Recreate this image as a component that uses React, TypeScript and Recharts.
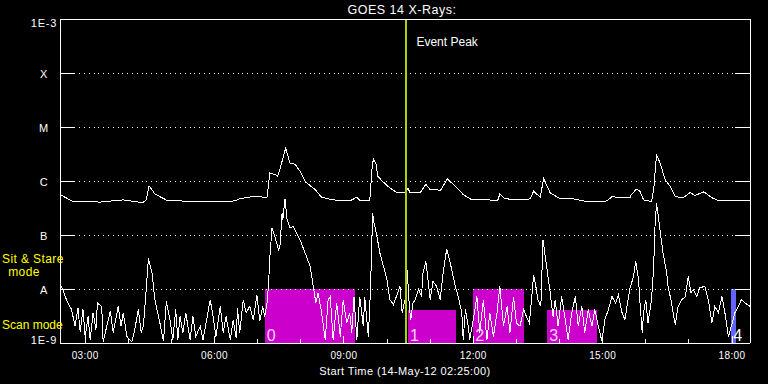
import {
  ComposedChart,
  Line,
  XAxis,
  YAxis,
  ReferenceLine,
  ReferenceArea,
} from 'recharts';

// time in minutes since 00:00 UT, flux as log10(W/m^2)
const longTime = [
  145, 163, 201, 233, 260, 265, 269, 277, 294, 312, 351, 388, 395, 412, 433,
  437, 444, 448, 452, 459, 465, 472, 479, 486, 500, 509, 525, 548, 558, 562,
  576, 579, 581, 585, 587, 594, 604, 613, 625, 629, 632, 646, 654, 660, 667,
  674, 684, 695, 706, 718, 740, 754, 757, 764, 792, 799, 804, 813, 818, 827,
  841, 859, 878, 906, 913, 924, 938, 940, 947, 952, 957, 968, 971, 975, 980,
  987, 994, 1001, 1012, 1022, 1028, 1041, 1052, 1061, 1084, 1105,
];
const longFlux = [
  -6.25, -6.38, -6.39, -6.35, -6.4, -6.35, -6.09, -6.24, -6.36, -6.37, -6.38, -6.37, -6.33, -6.29, -6.3,
  -5.85, -5.88, -5.91, -5.73, -5.39, -5.67, -5.69, -5.82, -6.01, -6.16, -6.3, -6.35, -6.37, -6.3, -6.36,
  -6.36, -5.79, -5.59, -5.7, -5.91, -6.01, -6.13, -6.21, -6.22, -6.13, -6.22, -6.22, -6.06, -6.16, -6.15,
  -6.18, -5.96, -6.1, -6.25, -6.35, -6.35, -6.36, -6.24, -6.33, -6.35, -6.33, -6.19, -6.3, -5.96, -6.22,
  -6.33, -6.33, -6.38, -6.37, -6.29, -6.31, -6.31, -6.25, -6.15, -6.19, -6.35, -6.38, -6.16, -5.51, -5.67,
  -5.98, -6.1, -6.29, -6.31, -6.21, -6.27, -6.2, -6.31, -6.36, -6.37, -6.37,
];

const shortTime = [
  145, 149, 154, 161, 166, 170, 173, 177, 180, 184, 187, 191, 195, 197, 203, 205, 215, 219, 226, 230,
  233, 238, 245, 249, 254, 258, 261, 265, 268, 273, 277, 284, 289, 293, 298, 302, 306, 309, 312, 316,
  320, 326, 330, 334, 340, 344, 354, 358, 362, 368, 372, 376, 382, 386, 390, 392, 395, 400, 404, 409,
  414, 419, 423, 427, 430, 433, 435, 437, 440, 444, 449, 451, 454, 455, 458, 461, 465, 469, 473, 479,
  486, 493, 497, 501, 504, 509, 514, 518, 521, 525, 530, 535, 539, 544, 548, 551, 554, 558, 562, 567,
  569, 574, 577, 580, 581, 583, 586, 590, 595, 600, 604, 609, 613, 618, 621, 625, 628, 631, 633, 636,
  639, 644, 648, 650, 654, 657, 660, 664, 669, 674, 678, 683, 688, 695, 699, 704, 706, 709, 713, 715,
  720, 725, 729, 734, 739, 743, 748, 753, 757, 762, 767, 771, 776, 780, 785, 790, 794, 798, 801, 804,
  807, 810, 814, 817, 822, 827, 831, 834, 838, 843, 848, 852, 857, 862, 866, 871, 875, 880, 885, 889,
  894, 899, 903, 908, 913, 918, 922, 927, 931, 936, 938, 943, 946, 950, 952, 955, 957, 960, 963, 968,
  971, 973, 975, 978, 981, 984, 989, 991, 995, 998, 1001, 1005, 1010, 1015, 1019, 1023, 1026, 1031, 1035, 1042,
  1047, 1052, 1056, 1061, 1066, 1071, 1075, 1079, 1084, 1089, 1093, 1098, 1105,
];
const shortFlux = [
  -7.92, -8.01, -8.2, -8.38, -8.69, -8.35, -8.79, -8.38, -8.88, -8.51, -8.94, -8.44, -8.75, -8.26, -8.32, -8.98, -8.41, -8.81, -8.32, -8.69,
  -8.44, -8.88, -8.98, -8.75, -8.38, -8.81, -8.69, -8.01, -7.43, -7.7, -8.2, -8.63, -8.97, -8.23, -8.57, -8.94, -8.38, -8.94, -8.51, -8.81,
  -8.44, -8.94, -8.51, -8.88, -8.69, -8.94, -8.2, -8.51, -8.88, -8.32, -8.81, -8.51, -8.94, -8.57, -8.9, -8.35, -8.81, -8.2, -8.44, -8.32,
  -8.57, -8.11, -8.6, -8.32, -8.51, -8.26, -7.95, -7.4, -6.87, -7.03, -7.27, -7.21, -6.59, -6.72, -6.33, -6.72, -6.87, -6.84, -6.93, -7.09,
  -7.33, -7.58, -7.92, -8.26, -8.07, -8.44, -8.94, -8.2, -8.14, -8.94, -8.26, -8.88, -8.2, -8.63, -8.44, -8.81, -8.14, -8.94, -8.14, -8.69,
  -8.14, -8.88, -8.01, -6.59, -6.72, -6.84, -7.03, -7.33, -7.58, -7.83, -8.2, -8.29, -8.14, -7.95, -8.44, -8.2, -7.64, -8.32, -8.57, -8.26,
  -8.2, -8.01, -8.14, -7.7, -7.49, -7.83, -8.2, -7.86, -7.95, -8.2, -7.7, -7.26, -7.52, -7.95, -8.14, -8.44, -8.94, -8.38, -8.69, -8.94,
  -8.57, -8.14, -8.81, -8.2, -8.94, -8.44, -8.88, -8.44, -7.95, -8.69, -8.32, -8.81, -8.14, -8.63, -8.69, -8.38, -8.51, -8.63, -8.2, -7.74,
  -7.95, -8.2, -8.32, -7.09, -7.58, -8.07, -8.51, -8.2, -8.69, -8.14, -8.57, -8.94, -8.44, -8.14, -8.69, -8.32, -8.81, -8.38, -8.69, -8.38,
  -8.69, -8.97, -8.57, -8.38, -8.14, -8.26, -8.11, -8.44, -8.57, -8.14, -7.98, -7.77, -7.49, -7.83, -8.26, -8.81, -8.44, -8.2, -8.63, -8.2,
  -7.58, -6.78, -6.41, -6.72, -7.03, -7.33, -7.7, -7.95, -8.2, -8.44, -8.66, -8.32, -8.2, -8.14, -7.77, -8.07, -8.01, -8.14, -7.98, -7.95,
  -8.2, -8.63, -8.32, -8.44, -8.14, -8.51, -8.88, -8.69, -8.44, -8.32, -8.2, -8.26, -8.32,
];

const hourTicks = [180, 240, 300, 360, 420, 480, 540, 600, 660, 720, 780, 840, 900, 960, 1020, 1080];
const majorTicks = [180, 360, 540, 720, 900, 1080];
const majorLabels = ['03:00', '06:00', '09:00', '12:00', '15:00', '18:00'];

const levelTicks = [-9, -8, -7, -6, -5, -4, -3];
const levelLabels = ['1E-9', 'A', 'B', 'C', 'M', 'X', '1E-3'];
const gridLevels = [-8, -7, -6, -5, -4];

// observing windows (minutes UT)
const rasterNames = ['0', '1', '2', '3', '4'];
const rasterStart = [430, 629, 720, 823, 1079];
const rasterEnd = [555, 696, 791, 892, 1086];
const rasterTop = [-8, -8.38, -8, -8.38, -8];
const rasterColor = ['#cc00cc', '#cc00cc', '#cc00cc', '#cc00cc', '#6464ff'];

const eventPeak = 627;

const longData = longTime.map((t, i) => ({ t, f: longFlux[i] }));
const shortData = shortTime.map((t, i) => ({ t, f: shortFlux[i] }));

const FONT = '"Liberation Sans", Arial, sans-serif';

const BottomTick = (props: any) => {
  const { x, y, payload } = props;
  const i = majorTicks.indexOf(payload.value);
  return (
    <g>
      <line x1={x} x2={x} y1={y} y2={y - (i >= 0 ? 7 : 4)} stroke="#fff" shapeRendering="crispEdges" />
      {i >= 0 && (
        <text x={x} y={y + 16} fill="#fff" fontSize={10} fontFamily={FONT} textAnchor="middle" letterSpacing={0.4}>
          {majorLabels[i]}
        </text>
      )}
    </g>
  );
};

const TopTick = (props: any) => {
  const { x, y, payload } = props;
  const major = majorTicks.includes(payload.value);
  return <line x1={x} x2={x} y1={y} y2={y + (major ? 7 : 4)} stroke="#fff" shapeRendering="crispEdges" />;
};

const LeftTick = (props: any) => {
  const { x, y, payload } = props;
  const i = levelTicks.indexOf(payload.value);
  const dy = payload.value === -3 ? 8 : payload.value === -9 ? 1 : 4.5;
  return (
    <g>
      {i > 0 && i < levelTicks.length - 1 && (
        <line x1={x} x2={x + 15} y1={y} y2={y} stroke="#fff" shapeRendering="crispEdges" />
      )}
      <text x={x - 16} y={y + dy} fill="#fff" fontSize={11} fontFamily={FONT} textAnchor="middle" letterSpacing={0.8}>
        {levelLabels[i]}
      </text>
    </g>
  );
};

const RightTick = (props: any) => {
  const { x, y, payload } = props;
  if (payload.value === -3 || payload.value === -9) return <g />;
  return <line x1={x} x2={x - 15} y1={y} y2={y} stroke="#fff" shapeRendering="crispEdges" />;
};

export default function App() {
  return (
    <div style={{ position: 'absolute', left: 0, top: 0, width: 768, height: 384, background: '#000', overflow: 'hidden' }}>
      <ComposedChart width={768} height={384} margin={{ top: 0, right: 0, bottom: 0, left: 0 }}>
        <XAxis
          xAxisId="b"
          dataKey="t"
          type="number"
          domain={[145, 1105]}
          ticks={hourTicks}
          interval={0}
          allowDataOverflow
          height={41}
          tickSize={0}
          tickMargin={0}
          tickLine={false}
          tick={BottomTick}
          axisLine={{ stroke: '#fff', shapeRendering: 'crispEdges' }}
        />
        <XAxis
          xAxisId="t"
          orientation="top"
          type="number"
          domain={[145, 1105]}
          ticks={hourTicks}
          interval={0}
          allowDataOverflow
          height={19}
          tickSize={0}
          tickMargin={0}
          tickLine={false}
          tick={TopTick}
          axisLine={{ stroke: '#fff', shapeRendering: 'crispEdges' }}
        />
        <YAxis
          yAxisId="l"
          type="number"
          domain={[-9, -3]}
          ticks={levelTicks}
          interval={0}
          allowDataOverflow
          width={60}
          tickSize={0}
          tickMargin={0}
          tickLine={false}
          tick={LeftTick}
          axisLine={{ stroke: '#fff', shapeRendering: 'crispEdges' }}
        />
        <YAxis
          yAxisId="r"
          orientation="right"
          type="number"
          domain={[-9, -3]}
          ticks={levelTicks}
          interval={0}
          allowDataOverflow
          width={18}
          tickSize={0}
          tickMargin={0}
          tickLine={false}
          tick={RightTick}
          axisLine={{ stroke: '#fff', shapeRendering: 'crispEdges' }}
        />

        {gridLevels.map(v => (
          <ReferenceLine
            key={v}
            xAxisId="b"
            yAxisId="l"
            y={v}
            stroke="#fff"
            strokeDasharray="1 3.8"
            shapeRendering="crispEdges"
          />
        ))}

        {rasterNames.map((name, i) => (
          <ReferenceArea
            key={name}
            xAxisId="b"
            yAxisId="l"
            x1={rasterStart[i]}
            x2={rasterEnd[i]}
            y1={-9}
            y2={rasterTop[i]}
            fill={rasterColor[i]}
            fillOpacity={1}
            stroke="none"
            shapeRendering="crispEdges"
            label={{
              value: name,
              position: 'insideBottomLeft',
              offset: 2,
              fill: i === 4 ? '#ffffff' : '#ffd6ff',
              fontSize: 16,
              fontFamily: FONT,
            }}
          />
        ))}

        <Line
          xAxisId="b"
          yAxisId="l"
          data={longData}
          dataKey="f"
          type="linear"
          stroke="#fff"
          strokeWidth={1}
          dot={false}
          shapeRendering="crispEdges"
          isAnimationActive={false}
        />
        <Line
          xAxisId="b"
          yAxisId="l"
          data={shortData}
          dataKey="f"
          type="linear"
          stroke="#fff"
          strokeWidth={1}
          dot={false}
          shapeRendering="crispEdges"
          isAnimationActive={false}
        />

        <ReferenceLine
          xAxisId="b"
          yAxisId="l"
          x={eventPeak}
          stroke="#a8d400"
          strokeWidth={2}
          shapeRendering="crispEdges"
          label={{
            value: 'Event Peak',
            position: 'insideTopLeft',
            offset: 10,
            dy: 8,
            fill: '#fff',
            fontSize: 12,
            fontFamily: FONT,
          }}
        />
      </ComposedChart>

      <svg width={768} height={384} style={{ position: 'absolute', left: 0, top: 0, pointerEvents: 'none' }}>
        <text x={402} y={14} fill="#fff" fontSize={12.5} fontFamily={FONT} textAnchor="middle" letterSpacing={0.5}>
          GOES 14 X-Rays:
        </text>
        <text x={405} y={375} fill="#fff" fontSize={11} fontFamily={FONT} textAnchor="middle" letterSpacing={0.4}>
          Start Time (14-May-12 02:25:00)
        </text>
        <text x={2} y={263} fill="#ffff00" fontSize={12} fontFamily={FONT} letterSpacing={0.4}>
          Sit &amp; Stare
        </text>
        <text x={24} y={275.5} fill="#ffff00" fontSize={12} fontFamily={FONT} textAnchor="middle" letterSpacing={0.4}>
          mode
        </text>
        <text x={2} y={328.5} fill="#ffff00" fontSize={12} fontFamily={FONT}>
          Scan mode
        </text>
      </svg>
    </div>
  );
}
